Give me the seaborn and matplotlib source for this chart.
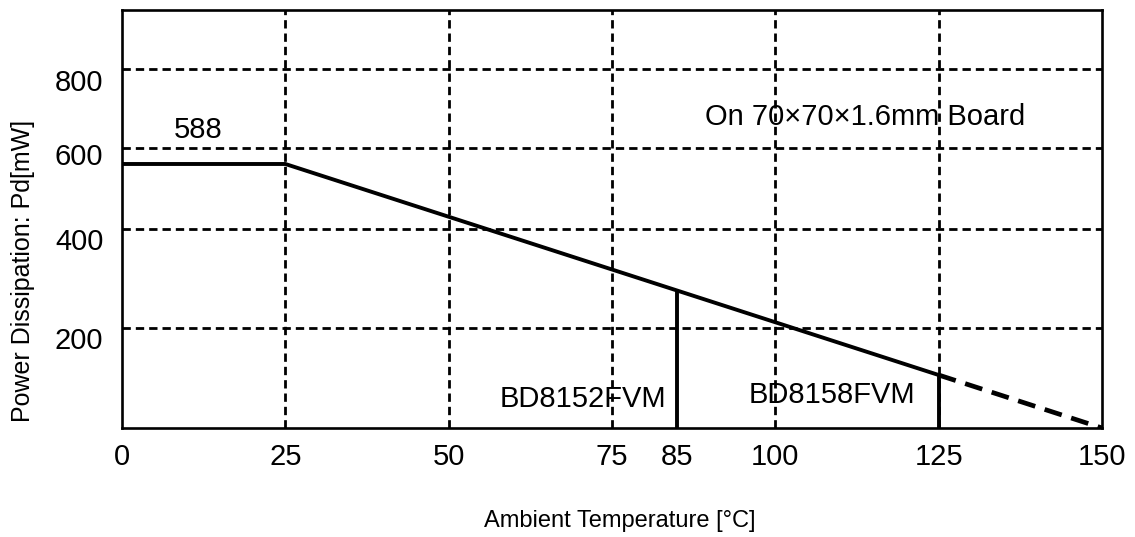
import matplotlib
matplotlib.use("Agg")
import matplotlib.pyplot as plt
import seaborn as sns
import pandas as pd

# === Data
temp = [0, 25, 85, 125, 150]
power = [588, 588, 306, 118, 0]
marker_temp = [85, 125]
marker_power = [306, 118]

x_ticks = [0, 25, 50, 75, 85, 100, 125, 150]
x_grid = [25, 50, 75, 100, 125]
y_tick_pos = [200, 421, 611, 775]
y_tick_labels = ["200", "400", "600", "800"]
y_grid = [223, 443, 624, 800]

sns.set_theme(style="white")
plt.rcParams['font.family'] = ['Liberation Sans', 'DejaVu Sans']

fig = plt.figure(figsize=(11.35, 5.37), dpi=100)
ax = fig.add_axes([0.1075, 0.203, 0.8634, 0.7784])

df = pd.DataFrame({"temp": temp, "power": power})
solid = df.iloc[:4]
dashed = df.iloc[3:]

# === Grid (hand placed in the original)
grid_style = dict(color="black", linewidth=2, linestyle=(0, (3, 1.8)), zorder=1)
for gx in x_grid:
    ax.axvline(gx, **grid_style)
for gy in y_grid:
    ax.axhline(gy, **grid_style)

# === Derating curve
sns.lineplot(data=solid, x="temp", y="power", color="black", linewidth=2.8, ax=ax, zorder=3)
sns.lineplot(data=dashed, x="temp", y="power", color="black", linewidth=3.4,
             linestyle=(0, (3.8, 2.1)), ax=ax, zorder=3)
ax.vlines(marker_temp, 0, marker_power, color="black", linewidth=2.8, zorder=3)

ax.set_xlim(0, 150)
ax.set_ylim(0, 931)
ax.set_xticks(x_ticks)
ax.set_xticklabels([str(t) for t in x_ticks])
ax.set_yticks(y_tick_pos)
ax.set_yticklabels(y_tick_labels)
ax.tick_params(axis="x", length=0, pad=10.5, labelsize=21, labelcolor="black")
ax.tick_params(axis="y", length=0, pad=13.5, labelsize=21, labelcolor="black")

for sp in ax.spines.values():
    sp.set_visible(True)
    sp.set_color("black")
    sp.set_linewidth(1.9)

# === Labels
ax.set_xlabel("Ambient Temperature [°C]", fontsize=17, color="black")
ax.xaxis.set_label_coords(0.508, -0.196)
ax.set_ylabel("Power Dissipation: Pd[mW]", fontsize=18, color="black")
ax.yaxis.set_label_coords(-0.089, 0.376)

# === Annotations
ax.text(11.6, 646, "588", fontsize=21, ha="center", va="baseline", color="black")
ax.text(89.2, 675, "On 70×70×1.6mm Board", fontsize=21, ha="left", va="baseline", color="black")
ax.text(70.6, 47, "BD8152FVM", fontsize=21, ha="center", va="baseline", color="black")
ax.text(108.6, 56, "BD8158FVM", fontsize=21, ha="center", va="baseline", color="black")

fig.savefig("out.png", dpi=100)
